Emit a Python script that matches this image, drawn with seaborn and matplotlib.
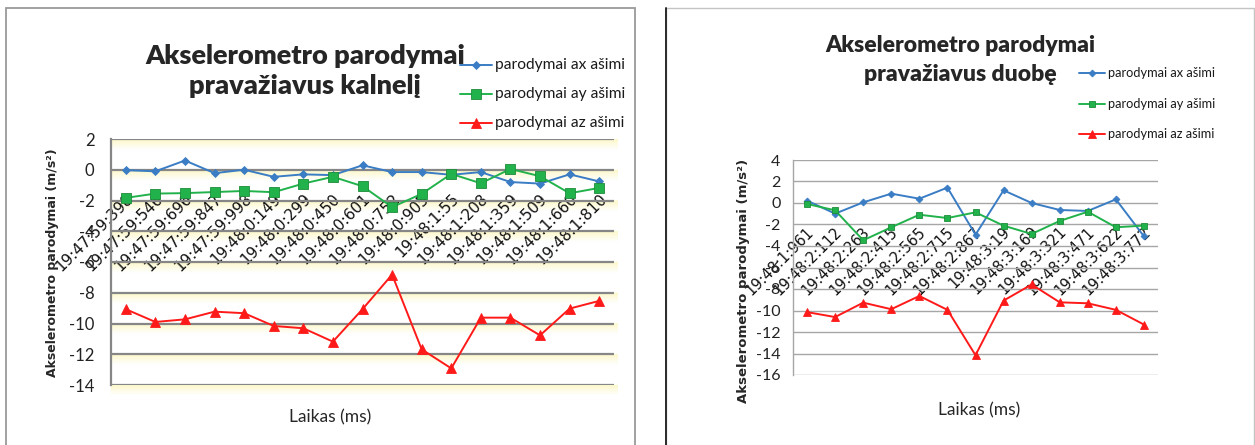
import numpy as np
import pandas as pd
import matplotlib
matplotlib.use("Agg")
import matplotlib.pyplot as plt
import matplotlib.transforms as mtransforms
from matplotlib.patches import Rectangle
from matplotlib.colors import to_rgb
import seaborn as sns

# ---- data: hill pass (kalnelis) ----
hill_times = ["19:47:59:398", "19:47:59:546", "19:47:59:696", "19:47:59:847",
              "19:47:59:998", "19:48:0:149", "19:48:0:299", "19:48:0:450",
              "19:48:0:601", "19:48:0:752", "19:48:0:905", "19:48:1:55",
              "19:48:1:208", "19:48:1:359", "19:48:1:509", "19:48:1:660",
              "19:48:1:810"]
hill_ax = [-0.03, -0.1, 0.6, -0.22, 0.0, -0.46, -0.3, -0.35, 0.29, -0.15,
           -0.15, -0.33, -0.15, -0.8, -0.9, -0.3, -0.76]
hill_ay = [-1.83, -1.55, -1.52, -1.45, -1.38, -1.46, -0.9, -0.46, -1.07,
           -2.43, -1.57, -0.27, -0.88, 0.05, -0.42, -1.53, -1.18]
hill_az = [-9.07, -9.9, -9.73, -9.23, -9.33, -10.16, -10.31, -11.18, -9.07,
           -6.82, -11.68, -12.92, -9.62, -9.62, -10.77, -9.03, -8.53]

# ---- data: pothole pass (duobė) ----
hole_times = ["19:48:1:961", "19:48:2:112", "19:48:2:263", "19:48:2:415",
              "19:48:2:565", "19:48:2:715", "19:48:2:867", "19:48:3:19",
              "19:48:3:169", "19:48:3:321", "19:48:3:471", "19:48:3:622",
              "19:48:3:772"]
hole_ax = [0.22, -0.99, 0.06, 0.87, 0.4, 1.43, -2.95, 1.18, 0.0, -0.65,
           -0.74, 0.34, -3.1]
hole_ay = [-0.09, -0.68, -3.47, -2.26, -1.09, -1.4, -0.87, -2.11, -2.88,
           -1.67, -0.81, -2.26, -2.1]
hole_az = [-10.15, -10.61, -9.27, -9.88, -8.65, -9.94, -14.16, -9.08, -7.58,
           -9.24, -9.33, -9.94, -11.31]

series_names = ["parodymai ax ašimi", "parodymai ay ašimi", "parodymai az ašimi"]
ylabel = "Akselerometro parodymai (m/s²)"
xlabel = "Laikas (ms)"
titles = ["Akselerometro parodymai\npravažiavus kalnelį",
          "Akselerometro parodymai\npravažiavus duobę"]

sns.set_theme(style="white")
plt.rcParams["font.family"] = ["Lato", "DejaVu Sans"]

W, H = 1255, 445
fig = plt.figure(figsize=(W / 100, H / 100), dpi=100)
fig.patch.set_facecolor("white")


def fx(px):
    return px / W


def fy(py):
    return 1 - py / H


# panel frames
fig.add_artist(Rectangle((fx(6), fy(447)), fx(629), fy(8) - fy(447),
                         transform=fig.transFigure, fill=False,
                         edgecolor="#9a9a9a", lw=1.3))
fig.add_artist(Rectangle((fx(665.5), fy(447)), fx(588), fy(8) - fy(447),
                         transform=fig.transFigure, fill=False,
                         edgecolor="#c4c4c4", lw=1.0))
fig.add_artist(plt.Line2D([fx(665.5), fx(665.5)], [fy(8), 0],
                          transform=fig.transFigure, color="#2a2a2a", lw=1.4))

colors = ["#3a7dc4", "#22b24c", "#ff1a1a"]
markers = ["D", "s", "^"]


def draw_panel(rect, times, ax_vals, ay_vals, az_vals, ylim, gcol, glw, sizes,
               tick_fs, xtick_fs, tick_pad, xpad, shift, band=False):
    ax = fig.add_axes(rect)
    pos = np.arange(len(times))
    for vals, c, m, ms in zip([ax_vals, ay_vals, az_vals], colors, markers, sizes):
        sns.lineplot(x=pos, y=vals, ax=ax, color=c, lw=1.4, marker=m,
                     markersize=ms, markeredgewidth=0.6,
                     markeredgecolor=("#1e8c3a" if m == "s" else c),
                     markerfacecolor=c, zorder=5)
    # category axis crosses the value axis at zero
    for s in ["top", "right"]:
        ax.spines[s].set_visible(False)
    ax.spines["bottom"].set_position(("data", 0))
    ax.spines["bottom"].set_visible(False)
    ax.spines["left"].set_color(gcol)
    ax.spines["left"].set_linewidth(glw)
    ax.set_xlim(-0.5, len(times) - 0.5)
    ax.set_ylim(*ylim)
    yt = np.arange(ylim[0], ylim[1] + 1, 2)
    ax.set_yticks(yt)
    ax.set_yticklabels([f"{v:d}" for v in yt], fontsize=tick_fs, color="#222222")
    ax.tick_params(axis="y", length=0, pad=tick_pad)
    for v in yt:
        ax.axhline(v, color=gcol, lw=glw, zorder=1)
    ax.set_xticks(pos)
    ax.set_xticklabels(times, rotation=45, ha="right", va="center",
                       rotation_mode="anchor", fontsize=xtick_fs,
                       family="DejaVu Sans", color="#111111")
    ax.tick_params(axis="x", length=0, pad=xpad)
    off = mtransforms.ScaledTranslation(shift / 100, 0, fig.dpi_scale_trans)
    for lab in ax.get_xticklabels():
        lab.set_transform(lab.get_transform() + off)
    ax.set_facecolor("none")
    ax.grid(False)
    if band:
        # pale yellow gradient below each gridline
        yy = np.linspace(ylim[1], ylim[0] - 0.65, 400)
        t = ((ylim[1] - yy) % 2) / 2.0
        strength = np.clip(1 - t / 0.35, 0, 1) * 0.9
        yel = np.array(to_rgb("#fcf7c4"))
        img = 1 - strength[:, None] * (1 - yel[None, :])
        img = np.repeat(img[:, None, :], 2, axis=1)
        ax.imshow(img, extent=(-0.5, len(times) - 0.38, ylim[0] - 0.65, ylim[1]),
                  aspect="auto", zorder=0, clip_on=False, interpolation="bilinear")
        ax.set_xlim(-0.5, len(times) - 0.5)
        ax.set_ylim(*ylim)
    return ax


axL = draw_panel([fx(111), fy(385), fx(503), fy(139) - fy(385)],
                 hill_times, hill_ax, hill_ay, hill_az, (-14, 2),
                 "#868686", 1.6, [4, 6.5, 6.5], 12, 11, 12, 19, 5, band=True)
axR = draw_panel([fx(793), fy(375), fx(365), fy(160) - fy(375)],
                 hole_times, hole_ax, hole_ay, hole_az, (-16, 4),
                 "#a6a6a6", 1.0, [3.5, 5, 5.5], 11.5, 10.5, 9, 19, 4)

# axis titles
fig.text(fx(53), fy(263), ylabel, rotation=90, ha="center", va="center",
         fontsize=9, fontweight="bold", family="DejaVu Sans")
fig.text(fx(743), fy(281), ylabel, rotation=90, ha="center", va="center",
         fontsize=9.5, fontweight="bold", family="DejaVu Sans")
fig.text(fx(330), fy(417), xlabel, ha="center", va="center", fontsize=12.5)
fig.text(fx(979), fy(410), xlabel, ha="center", va="center", fontsize=12.5)

# chart titles
fig.text(fx(305), fy(71), titles[0], ha="center", va="center", fontsize=19.5,
         fontweight="heavy", linespacing=1.3)
fig.text(fx(960), fy(60), titles[1], ha="center", va="center", fontsize=16.5,
         fontweight="heavy", linespacing=1.5)

# legends
for (x0, x1, xt, ys, fs, ms_) in [(460, 492, 495, [65, 94, 123], 11.2, [4, 6.5, 6.5]),
                                  (1079, 1105, 1108, [73, 104, 134], 9.2, [3.5, 5, 5.5])]:
    for name, c, m, y, ms in zip(series_names, colors, markers, ys, ms_):
        fig.add_artist(plt.Line2D([fx(x0), fx(x1)], [fy(y), fy(y)],
                                  transform=fig.transFigure, color=c, lw=1.4))
        fig.add_artist(plt.Line2D([fx((x0 + x1) / 2)], [fy(y)],
                                  transform=fig.transFigure, color=c, marker=m,
                                  markersize=ms, markeredgewidth=0.6,
                                  markeredgecolor=("#1e8c3a" if m == "s" else c),
                                  markerfacecolor=c))
        fig.text(fx(xt), fy(y), name, ha="left", va="center", fontsize=fs,
                 color="#1a1a1a")

fig.savefig("out.png", dpi=100, facecolor="white")
